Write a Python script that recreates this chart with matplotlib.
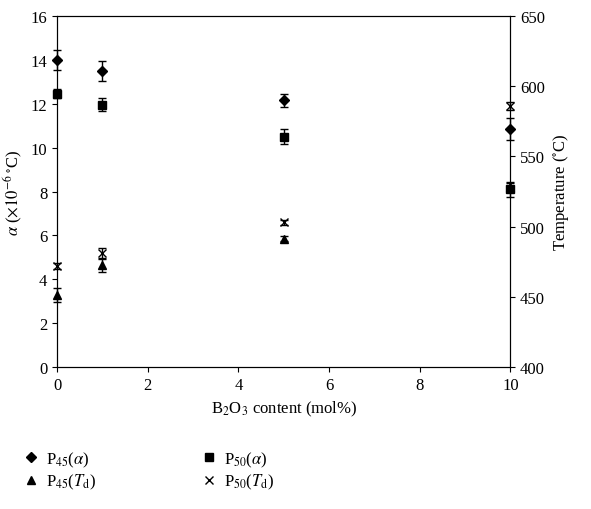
import matplotlib
matplotlib.use("Agg")
import matplotlib.pyplot as plt
from matplotlib.lines import Line2D

plt.rcParams['font.family'] = ['Liberation Serif', 'DejaVu Serif']
plt.rcParams['mathtext.fontset'] = 'stix'

x = [0, 1, 5, 10]
p45_a = [14.0, 13.5, 12.15, 10.85]
p45_a_err = [0.45, 0.45, 0.3, 0.5]
p50_a = [12.45, 11.95, 10.5, 8.1]
p50_a_err = [0.2, 0.3, 0.35, 0.35]
p45_t = [451.5, 472.5, 491.5, 528.0]
p45_t_err = [5, 5, 2, 3]
p50_t = [472.0, 481.0, 503.0, 586.0]
p50_t_err = [2, 4, 2, 3]

fig = plt.figure(figsize=(5.91, 5.10), dpi=100)
ax = fig.add_axes([0.0965, 0.278, 0.767, 0.689])
ax2 = ax.twinx()
k = dict(color='black', ecolor='black', elinewidth=1, capsize=3, linestyle='none', markersize=6)
for a, y, e, m, ms in [(ax, p45_a, p45_a_err, 'D', 5), (ax, p50_a, p50_a_err, 's', 6),
                       (ax2, p45_t, p45_t_err, '^', 6), (ax2, p50_t, p50_t_err, 'x', 6)]:
    c = a.errorbar(x, y, yerr=e, marker=m, **{**k, 'markersize': ms})
    for art in c.get_children():
        art.set_clip_on(False)

ax.set_xlim(0, 10)
ax.set_ylim(0, 16)
ax.set_xticks([0, 2, 4, 6, 8, 10])
ax.set_yticks(range(0, 17, 2))
ax2.set_ylim(400, 650)
ax2.set_yticks(range(400, 651, 50))
for a in (ax, ax2):
    a.tick_params(direction='out', labelsize=12)
ax.set_xlabel(r'B$_2$O$_3$ content (mol%)', fontsize=12)
ax.set_ylabel(r'$\alpha$ ($\times 10^{-6}\,^{\circ}$C)', fontsize=12)
ax2.set_ylabel(r'Temperature ($^{\circ}$C)', fontsize=12)

handles = [Line2D([], [], color='black', marker='D', ls='none', markersize=5),
           Line2D([], [], color='black', marker='^', ls='none', markersize=6),
           Line2D([], [], color='black', marker='s', ls='none', markersize=6),
           Line2D([], [], color='black', marker='x', ls='none', markersize=6)]
labels = [r'P$_{45}$($\alpha$)', r'P$_{45}$($T_{\rm d}$)', r'P$_{50}$($\alpha$)', r'P$_{50}$($T_{\rm d}$)']
fig.legend(handles, labels, ncol=2, frameon=False, fontsize=12,
           loc='lower left', bbox_to_anchor=(0.01, 0.005), columnspacing=6.2,
           handletextpad=0.3, handlelength=1.2, labelspacing=0.2)
fig.savefig('out.png', dpi=100)
